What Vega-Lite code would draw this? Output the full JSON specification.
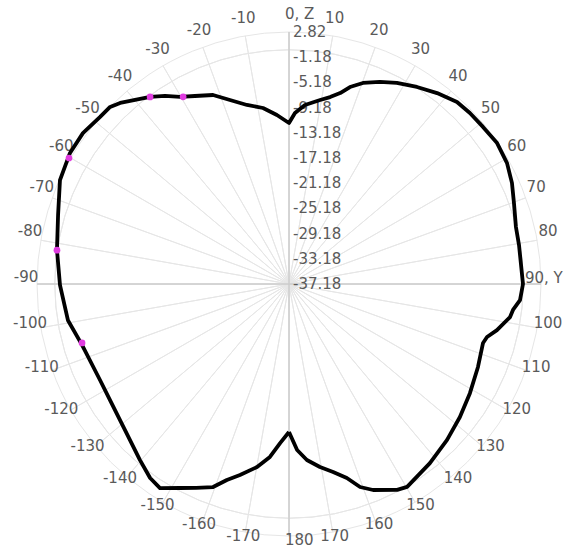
{
  "$schema": "https://vega.github.io/schema/vega-lite/v6.json",
  "width": 504,
  "height": 504,
  "autosize": "none",
  "padding": {"left": 37, "top": 32, "right": 33, "bottom": 13},
  "background": "white",
  "config": {"view": {"stroke": null}, "text": {"font": "DejaVu Sans", "fontSize": 15, "fill": "#5a5a5a"}},
  "datasets": {
    "spokes": [{"a":0},{"a":10},{"a":20},{"a":30},{"a":40},{"a":50},{"a":60},{"a":70},{"a":80},{"a":90},{"a":100},{"a":110},{"a":120},{"a":130},{"a":140},{"a":150},{"a":160},{"a":170},{"a":180},{"a":190},{"a":200},{"a":210},{"a":220},{"a":230},{"a":240},{"a":250},{"a":260},{"a":270},{"a":280},{"a":290},{"a":300},{"a":310},{"a":320},{"a":330},{"a":340},{"a":350}],
    "rings": [{"g":-37.18,"t":"-37.18"},{"g":-33.18,"t":"-33.18"},{"g":-29.18,"t":"-29.18"},{"g":-25.18,"t":"-25.18"},{"g":-21.18,"t":"-21.18"},{"g":-17.18,"t":"-17.18"},{"g":-13.18,"t":"-13.18"},{"g":-9.18,"t":"-9.18"},{"g":-5.18,"t":"-5.18"},{"g":-1.18,"t":"-1.18"},{"g":2.82,"t":"2.82"}],
    "anglelabels": [
      {"a":-170,"t":"-170"},{"a":-160,"t":"-160"},{"a":-150,"t":"-150"},{"a":-140,"t":"-140"},{"a":-130,"t":"-130"},{"a":-120,"t":"-120"},{"a":-110,"t":"-110"},{"a":-100,"t":"-100"},{"a":-90,"t":"-90"},{"a":-80,"t":"-80"},{"a":-70,"t":"-70"},{"a":-60,"t":"-60"},{"a":-50,"t":"-50"},{"a":-40,"t":"-40"},{"a":-30,"t":"-30"},{"a":-20,"t":"-20"},{"a":-10,"t":"-10"},
      {"a":10,"t":"10"},{"a":20,"t":"20"},{"a":30,"t":"30"},{"a":40,"t":"40"},{"a":50,"t":"50"},{"a":60,"t":"60"},{"a":70,"t":"70"},{"a":80,"t":"80"},{"a":100,"t":"100"},{"a":110,"t":"110"},{"a":120,"t":"120"},{"a":130,"t":"130"},{"a":140,"t":"140"},{"a":150,"t":"150"},{"a":160,"t":"160"},{"a":170,"t":"170"}
    ],
    "pattern": [
      {"a":-180,"g":-13.69},{"a":-176.8,"g":-11.89},{"a":-173.7,"g":-9.56},{"a":-170.1,"g":-7.69},{"a":-165.6,"g":-5.88},{"a":-162.4,"g":-4.55},{"a":-159.5,"g":-2.77},{"a":-155.5,"g":-1.6},{"a":-151.9,"g":-0.47},{"a":-147.7,"g":1.14},{"a":-144.4,"g":0.69},{"a":-139.7,"g":-0.58},{"a":-131.7,"g":-2.32},{"a":-122.9,"g":-3.32},{"a":-117,"g":-3.53},{"a":-106.4,"g":-2.93},{"a":-99.3,"g":-1.62},{"a":-90.3,"g":-0.83},{"a":-81.7,"g":0.04},{"a":-73.4,"g":1.07},{"a":-65.6,"g":2.74},{"a":-59.1,"g":3.33},{"a":-53.8,"g":3.36},{"a":-48.5,"g":2.85},{"a":-45.3,"g":2.77},{"a":-43,"g":2.12},{"a":-36.6,"g":-0.2},{"a":-33.4,"g":-1.43},{"a":-30.2,"g":-2.83},{"a":-26.6,"g":-3.81},{"a":-21.9,"g":-4.85},{"a":-17.8,"g":-6.51},{"a":-13.2,"g":-7.99},{"a":-8.4,"g":-8.94},{"a":-4.1,"g":-10.29},{"a":0,"g":-11.62},{"a":2,"g":-10.02},{"a":5.1,"g":-8.66},{"a":9.6,"g":-7.56},{"a":12.4,"g":-6.8},{"a":15,"g":-5.8},{"a":17.2,"g":-4.45},{"a":20.2,"g":-3.18},{"a":24.2,"g":-2.01},{"a":28.2,"g":-0.96},{"a":33,"g":0.11},{"a":37.8,"g":1.17},{"a":42.7,"g":2.14},{"a":46.6,"g":2.34},{"a":51,"g":2.44},{"a":55.9,"g":2.71},{"a":61,"g":2.39},{"a":65.6,"g":1.68},{"a":70.2,"g":0.77},{"a":75.9,"g":-0.04},{"a":80.4,"g":-0.15},{"a":90,"g":-0.04},{"a":94,"g":-0.42},{"a":96.6,"g":-1.39},{"a":98.5,"g":-1.7},{"a":102.5,"g":-3.37},{"a":105,"g":-4.64},{"a":106.9,"g":-4.99},{"a":113.7,"g":-4.42},{"a":121.1,"g":-3.64},{"a":127.9,"g":-2.8},{"a":134.6,"g":-1.94},{"a":141.8,"g":-1.01},{"a":149.8,"g":0.09},{"a":152.3,"g":-0.26},{"a":157.8,"g":-1.86},{"a":160.7,"g":-3.04},{"a":163.4,"g":-5.04},{"a":166.8,"g":-6.53},{"a":170.4,"g":-7.72},{"a":174.2,"g":-9.1},{"a":177.2,"g":-10.8},{"a":180,"g":-13.69}
    ],
    "markers": [{"a":-105.9,"g":-3.02},{"a":-81.7,"g":0.04},{"a":-60.2,"g":3.06},{"a":-36.6,"g":-0.2},{"a":-29.5,"g":-3.05}]
  },
  "layer": [
    {
      "data": {"name": "rings"},
      "mark": {"type": "arc", "fillOpacity": 0, "stroke": "#e6e6e6", "strokeWidth": 1},
      "encoding": {
        "theta": {"value": 0},
        "theta2": {"value": 6.2832},
        "radius": {"field": "g", "type": "quantitative", "scale": {"type": "linear", "domain": [-37.18, 2.82], "range": [0, 252], "zero": false}},
        "radius2": {"value": 0}
      }
    },
    {
      "data": {"name": "spokes"},
      "mark": {"type": "arc", "fillOpacity": 0, "stroke": "#e6e6e6", "strokeWidth": 1},
      "encoding": {
        "theta": {"field": "a", "type": "quantitative", "stack": null, "scale": {"type": "linear", "domain": [0, 360], "range": [0, 6.283185307179586], "zero": false}},
        "theta2": {"field": "a"},
        "radius": {"datum": 2.82, "type": "quantitative"},
        "radius2": {"value": 0}
      }
    },
    {
      "data": {"name": "spokes"},
      "transform": [{"filter": "datum.a % 90 == 0"}],
      "mark": {"type": "arc", "fillOpacity": 0, "stroke": "#cccccc", "strokeWidth": 1},
      "encoding": {
        "theta": {"field": "a", "type": "quantitative", "stack": null},
        "theta2": {"field": "a"},
        "radius": {"datum": 2.82, "type": "quantitative"},
        "radius2": {"value": 0}
      }
    },
    {
      "data": {"name": "rings"},
      "mark": {"type": "text", "align": "left", "baseline": "middle", "dx": 4},
      "encoding": {
        "theta": {"value": 0},
        "radius": {"field": "g", "type": "quantitative"},
        "text": {"field": "t", "type": "nominal"}
      }
    },
    {
      "data": {"name": "anglelabels"},
      "mark": {"type": "text", "align": "center", "baseline": "middle", "dy": -7, "radius": 263},
      "encoding": {
        "theta": {"field": "a", "type": "quantitative", "stack": null},
        "text": {"field": "t", "type": "nominal"}
      }
    },
    {
      "data": {"values": [{"a": 0, "t": "0, Z"}, {"a": 180, "t": "180"}]},
      "mark": {"type": "text", "align": "left", "baseline": "middle", "dy": -7, "dx": -4, "radius": 263},
      "encoding": {
        "theta": {"field": "a", "type": "quantitative", "stack": null},
        "text": {"field": "t", "type": "nominal"}
      }
    },
    {
      "data": {"values": [{"a": 90, "t": "90, Y"}]},
      "mark": {"type": "text", "align": "left", "baseline": "middle", "dy": -6, "radius": 236},
      "encoding": {
        "theta": {"field": "a", "type": "quantitative", "stack": null},
        "text": {"field": "t", "type": "nominal"}
      }
    },
    {
      "data": {"name": "pattern"},
      "transform": [
        {"calculate": "(datum.g + 37.18) / 40", "as": "rn"},
        {"calculate": "datum.rn * sin(datum.a * PI / 180)", "as": "px"},
        {"calculate": "datum.rn * cos(datum.a * PI / 180)", "as": "py"}
      ],
      "mark": {"type": "line", "color": "black", "strokeWidth": 3.8, "strokeJoin": "round"},
      "encoding": {
        "x": {"field": "px", "type": "quantitative", "scale": {"domain": [-1, 1], "zero": false, "nice": false}, "axis": null},
        "y": {"field": "py", "type": "quantitative", "scale": {"domain": [-1, 1], "zero": false, "nice": false}, "axis": null},
        "order": {"field": "a", "type": "quantitative"}
      }
    },
    {
      "data": {"name": "markers"},
      "transform": [
        {"calculate": "(datum.g + 37.18) / 40", "as": "rn"},
        {"calculate": "datum.rn * sin(datum.a * PI / 180)", "as": "px"},
        {"calculate": "datum.rn * cos(datum.a * PI / 180)", "as": "py"}
      ],
      "mark": {"type": "point", "filled": true, "color": "#e03ce0", "size": 45, "opacity": 1},
      "encoding": {
        "x": {"field": "px", "type": "quantitative"},
        "y": {"field": "py", "type": "quantitative"}
      }
    }
  ]
}
